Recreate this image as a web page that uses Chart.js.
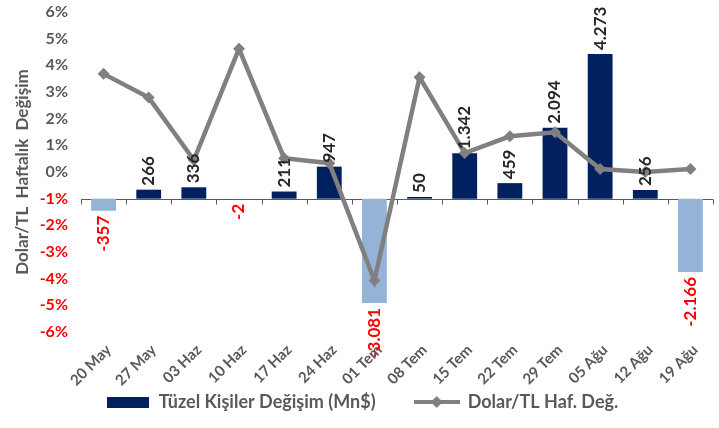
<!DOCTYPE html>
<html>
<head>
<meta charset="utf-8">
<script src="https://cdn.jsdelivr.net/npm/chart.js@4.4.0/dist/chart.umd.min.js"></script>
<style>
  html, body { margin: 0; padding: 0; background: #fff; }
  #wrap { width: 719px; height: 428px; position: relative; }
</style>
</head>
<body>
<div id="wrap"><canvas id="myChart"></canvas></div>
<script>
// data
var weeks = ['20 May', '27 May', '03 Haz', '10 Haz', '17 Haz', '24 Haz', '01 Tem', '08 Tem', '15 Tem', '22 Tem', '29 Tem', '05 Ağu', '12 Ağu', '19 Ağu'];
var tuzelDegisim = [-357, 266, 336, -2, 211, 947, -3081, 50, 1342, 459, 2094, 4273, 256, -2166];
var dolarTlDegisim = [3.68, 2.79, 0.45, 4.62, 0.52, 0.33, -4.07, 3.55, 0.71, 1.34, 1.49, 0.11, 0.0, 0.11];
var yTicks = [-6, -5, -4, -3, -2, -1, 0, 1, 2, 3, 4, 5, 6];

var navy = '#002060';
var lightBlue = '#95B3D7';
var gray = '#808080';
var textGray = '#595959';
var fontFam = 'Lato, "Open Sans", sans-serif';

function fmt(v) {
  var s = String(Math.abs(v)).replace(/\B(?=(\d{3})+(?!\d))/g, '.');
  return (v < 0 ? '-' : '') + s;
}

// legend symbols
function barSymbol() {
  var c = document.createElement('canvas');
  c.width = 42; c.height = 11;
  var g = c.getContext('2d');
  g.fillStyle = navy;
  g.fillRect(0, 0, 42, 11);
  return c;
}
function lineSymbol() {
  var c = document.createElement('canvas');
  c.width = 46; c.height = 14;
  var g = c.getContext('2d');
  g.strokeStyle = gray; g.lineWidth = 4;
  g.beginPath(); g.moveTo(0, 7); g.lineTo(46, 7); g.stroke();
  g.fillStyle = gray;
  g.beginPath(); g.moveTo(23, 1); g.lineTo(29, 7); g.lineTo(23, 13); g.lineTo(17, 7); g.closePath(); g.fill();
  return c;
}

// axis line at -1% with tick marks between the weeks
var baseLine = {
  id: 'baseLine',
  beforeDatasetsDraw: function(chart) {
    var ctx = chart.ctx, x = chart.scales.x, y = chart.scales.y;
    var yy = Math.round(y.getPixelForValue(-1)) + 0.5;
    ctx.save();
    ctx.strokeStyle = '#595959';
    ctx.lineWidth = 1;
    ctx.beginPath();
    ctx.moveTo(x.left, yy); ctx.lineTo(x.right, yy);
    var step = (x.right - x.left) / weeks.length;
    for (var i = 0; i <= weeks.length; i++) {
      var tx = Math.round(x.left + i * step) + 0.5;
      ctx.moveTo(tx, yy); ctx.lineTo(tx, yy + 5);
    }
    ctx.stroke();
    ctx.restore();
  }
};

// rotated value labels on the bars
var barLabels = {
  id: 'barLabels',
  afterDraw: function(chart) {
    var ctx = chart.ctx;
    var meta = chart.getDatasetMeta(0);
    ctx.save();
    ctx.font = 'bold 17px ' + fontFam;
    ctx.textBaseline = 'middle';
    meta.data.forEach(function(bar, i) {
      var v = tuzelDegisim[i];
      ctx.save();
      if (v >= 0) {
        ctx.translate(bar.x, bar.y - 4);
        ctx.rotate(-Math.PI / 2);
        ctx.textAlign = 'left';
        ctx.fillStyle = '#262626';
      } else {
        ctx.translate(bar.x, bar.y + 5);
        ctx.rotate(-Math.PI / 2);
        ctx.textAlign = 'right';
        ctx.fillStyle = '#FF0000';
      }
      ctx.fillText(fmt(v), 0, 0);
      ctx.restore();
    });
    ctx.restore();
  }
};

var ctx = document.getElementById('myChart').getContext('2d');
var myChart = new Chart(ctx, {
  data: {
    labels: weeks,
    datasets: [{
      type: 'bar',
      label: 'Tüzel Kişiler Değişim (Mn$)',
      data: tuzelDegisim,
      yAxisID: 'y2',
      backgroundColor: tuzelDegisim.map(function(v) { return v < 0 ? lightBlue : navy; }),
      barPercentage: 0.55,
      categoryPercentage: 1.0,
      order: 2
    }, {
      type: 'line',
      label: 'Dolar/TL Haf. Değ.',
      data: dolarTlDegisim,
      yAxisID: 'y',
      borderColor: gray,
      backgroundColor: gray,
      borderWidth: 4.5,
      pointStyle: 'rectRot',
      pointRadius: 6,
      pointBorderWidth: 0,
      tension: 0,
      order: 1
    }]
  },
  options: {
    responsive: true,
    maintainAspectRatio: false,
    animation: false,
    layout: { padding: { left: 6, right: 1, top: 12, bottom: 7 } },
    plugins: {
      tooltip: { enabled: false },
      legend: {
        position: 'bottom',
        labels: {
          usePointStyle: true,
          pointStyleWidth: 44,
          boxHeight: 14,
          padding: 4,
          color: textGray,
          font: { family: fontFam, size: 18, weight: 'bold' },
          generateLabels: function(chart) {
            // trailing spaces give the wider gap between the two items
            return [
              { text: 'Tüzel Kişiler Değişim (Mn$)        ', pointStyle: barSymbol(), fontColor: textGray, datasetIndex: 0, lineWidth: 0, strokeStyle: 'transparent', fillStyle: navy },
              { text: 'Dolar/TL Haf. Değ.', pointStyle: lineSymbol(), fontColor: textGray, datasetIndex: 1, lineWidth: 0, strokeStyle: 'transparent', fillStyle: gray }
            ];
          }
        }
      }
    },
    scales: {
      x: {
        offset: true,
        grid: { display: false, drawTicks: false },
        border: { display: false },
        ticks: {
          color: textGray,
          font: { family: fontFam, size: 15, weight: 'bold' },
          minRotation: 45,
          maxRotation: 45,
          labelOffset: 5,
          padding: 9
        },
        afterFit: function(scale) { scale.height = 57; }
      },
      y: {
        min: -6,
        max: 6,
        grid: { display: false, drawTicks: false },
        border: { display: false },
        afterBuildTicks: function(scale) {
          scale.ticks = yTicks.map(function(v) { return { value: v }; });
        },
        ticks: {
          callback: function(v) { return v + '%'; },
          color: function(c) { return c.tick.value < 0 ? '#FF0000' : textGray; },
          font: { family: fontFam, size: 16, weight: 'bold' },
          padding: 13
        },
        title: {
          display: true,
          text: 'Dolar/TL  Haftalık  Değişim',
          color: textGray,
          font: { family: fontFam, size: 17, weight: 'bold' },
          padding: 6
        },
        afterFit: function(scale) { scale.width = 75; scale.paddingTop = 0; }
      },
      y2: {
        display: false,
        min: -3940,
        max: 5516
      }
    }
  },
  plugins: [baseLine, barLabels]
});
</script>
</body>
</html>
